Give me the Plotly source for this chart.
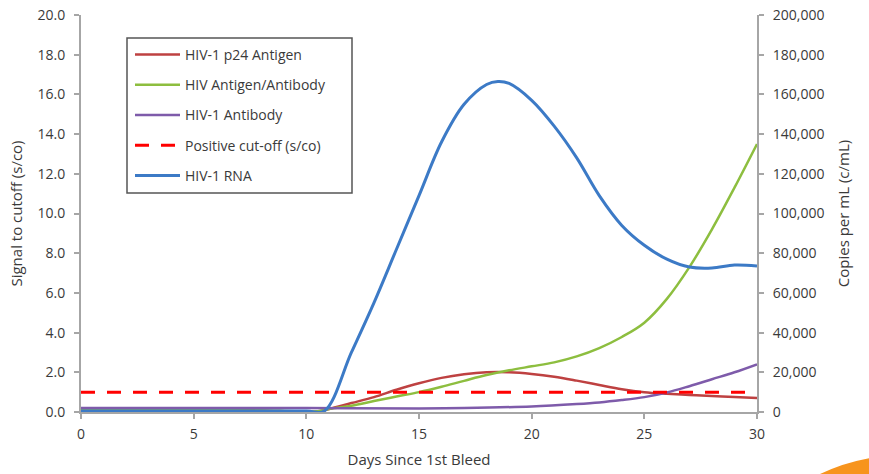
import plotly.graph_objects as go

# ---- data ----
days_p24 = [0, 5, 8, 9.5, 10.5, 11, 12, 13, 14, 15, 16, 17, 18, 19, 20, 21, 22, 23, 24, 25, 26, 27, 28, 29, 30]
p24 = [0.1, 0.1, 0.08, 0.02, 0.02, 0.15, 0.45, 0.75, 1.12, 1.45, 1.72, 1.9, 2.0, 2.0, 1.92, 1.78, 1.58, 1.36, 1.15, 1.0, 0.92, 0.86, 0.8, 0.75, 0.7]

days_agab = [0, 5, 8, 9.5, 10.5, 11, 12, 13, 14, 15, 16, 17, 18, 19, 20, 21, 22, 23, 24, 25, 26, 27, 28, 29, 30]
agab = [0.1, 0.1, 0.08, 0.04, 0.04, 0.15, 0.32, 0.55, 0.78, 1.0, 1.27, 1.57, 1.86, 2.1, 2.3, 2.5, 2.8, 3.22, 3.78, 4.5, 5.7, 7.3, 9.2, 11.3, 13.5]

days_ab = [0, 5, 10, 15, 17, 20, 22, 23, 24, 25, 26, 27, 28, 29, 30]
ab = [0.2, 0.2, 0.2, 0.18, 0.2, 0.28, 0.4, 0.48, 0.6, 0.75, 0.98, 1.3, 1.65, 2.0, 2.4]

days_cutoff = [0, 30]
cutoff = [1.0, 1.0]

days_rna = [0, 5, 10, 10.8, 12, 13, 14, 15, 16, 17, 18, 18.5, 19, 20, 21, 22, 23, 24, 25, 26, 27, 28, 29, 30]
rna = [500, 500, 500, 500, 30000, 55000, 82000, 109000, 136000, 155000, 165000, 166500, 165500, 157000, 144000, 128000, 109000, 94000, 84000, 77000, 73000, 72500, 74000, 73500]

x_ticks = [0, 5, 10, 15, 20, 25, 30]

# ---- styling ----
FONT = "Open Sans"
TXT = "#3A3A3A"
AX = "#A6A6A6"

W, H = 869, 474
PL, PT, PR, PB = 81, 15, 757, 412   # plot area in page pixels

fig = go.Figure()

fig.add_trace(go.Scatter(x=days_p24, y=p24, name="HIV-1 p24 Antigen", mode="lines",
                         line=dict(color="#BE4141", width=2.5, shape="spline"), legendgroup="a"))
fig.add_trace(go.Scatter(x=days_agab, y=agab, name="HIV Antigen/Antibody", mode="lines",
                         line=dict(color="#8DBE3F", width=2.5, shape="spline"), legendgroup="b"))
fig.add_trace(go.Scatter(x=days_ab, y=ab, name="HIV-1 Antibody", mode="lines",
                         line=dict(color="#7E5BAA", width=2.5, shape="spline"), legendgroup="c"))
fig.add_trace(go.Scatter(x=days_cutoff, y=cutoff, name="Positive cut-off (s/co)", mode="lines",
                         line=dict(color="#FF0000", width=3, dash="14px,12px"), legendgroup="d"))
fig.add_trace(go.Scatter(x=days_rna, y=rna, name="HIV-1 RNA", mode="lines", yaxis="y2",
                         line=dict(color="#3C7AC6", width=3, shape="spline"), legendgroup="e"))


def px2paper(px, py):
    return (px - PL) / (PR - PL), (PB - py) / (PB - PT)


lx, ly = px2paper(130, 39)

fig.update_layout(
    width=W, height=H,
    margin=dict(l=PL, r=W - PR, t=PT, b=H - PB),
    paper_bgcolor="white", plot_bgcolor="white",
    font=dict(family=FONT, size=14, color=TXT),
    showlegend=True,
    legend=dict(x=lx, y=ly, xanchor="left", yanchor="top",
                borderwidth=0, bgcolor="rgba(0,0,0,0)",
                font=dict(family=FONT, size=14, color=TXT),
                tracegroupgap=9, itemwidth=45, traceorder="grouped"),
    xaxis=dict(range=[0, 30], tickvals=x_ticks, showgrid=False, zeroline=False, automargin=False,
               showline=True, linecolor=AX, linewidth=2, ticks="outside", ticklen=5,
               tickcolor=AX, tickwidth=1.5, ticklabelstandoff=3, ticklabeloverflow="allow",
               title=dict(text="Days Since 1st Bleed", standoff=13, font=dict(size=15))),
    yaxis=dict(range=[0, 20], dtick=2, tickformat=".1f", showgrid=False, zeroline=False,
               automargin=False, ticklabeloverflow="allow",
               showline=True, linecolor=AX, linewidth=2, ticks="outside", ticklen=5,
               tickcolor=AX, tickwidth=1.5, ticklabelstandoff=6,
               title=dict(text="Signal to cutoff (s/co)", standoff=11, font=dict(size=15))),
    yaxis2=dict(range=[0, 200000], dtick=20000, tickformat=",d", overlaying="y", side="right",
                automargin=False, ticklabeloverflow="allow",
                showgrid=False, zeroline=False, showline=True, linecolor=AX, linewidth=2,
                ticks="outside", ticklen=5, tickcolor=AX, tickwidth=1.5, ticklabelstandoff=6,
                title=dict(text="Copies per mL (c/mL)", standoff=15, font=dict(size=15))),
)

# legend frame
bx0, by0 = px2paper(127, 38)
bx1, by1 = px2paper(352, 193)
fig.add_shape(type="rect", xref="paper", yref="paper", x0=bx0, y0=by1, x1=bx1, y1=by0,
              line=dict(color="#555555", width=1.5), fillcolor="rgba(0,0,0,0)", layer="above")

# orange slide decoration in the bottom-right corner
x0, y0 = px2paper(818, 475)
x1, y1 = px2paper(842, 463)
x2, y2 = px2paper(870, 458)
x3, y3 = px2paper(870, 475)
fig.add_shape(type="path", xref="paper", yref="paper",
              path=f"M {x0},{y0} Q {x1},{y1} {x2},{y2} L {x3},{y3} Z",
              fillcolor="#F7941D", line=dict(width=0), layer="above")

fig.write_html("out.html",
               config={"displayModeBar": False},
               post_script="document.body.style.margin='0';document.body.style.overflow='hidden';")
